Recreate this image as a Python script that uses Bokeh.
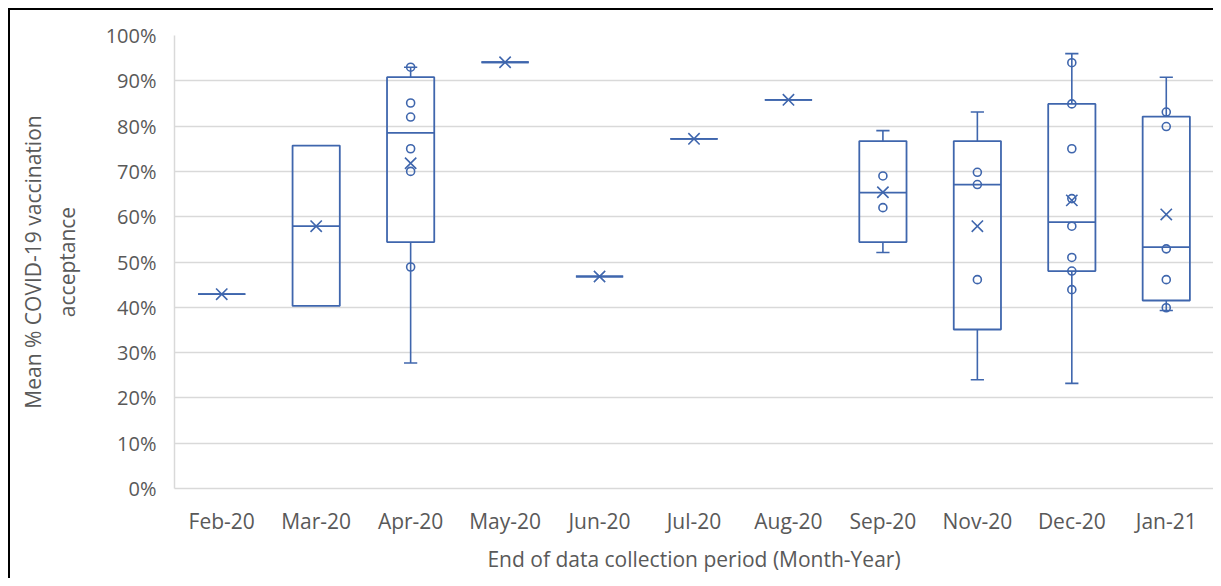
from bokeh.plotting import figure
from bokeh.models import (FactorRange, Range1d, FixedTicker, PrintfTickFormatter,
                          ColumnDataSource)
from bokeh.transform import dodge
from bokeh.embed import file_html
from bokeh.resources import INLINE

# ---- data (values in %) ----
months = ["Feb-20", "Mar-20", "Apr-20", "May-20", "Jun-20", "Jul-20",
          "Aug-20", "Sep-20", "Nov-20", "Dec-20", "Jan-21"]
q1 = [42.9, 40.3, 54.4, 94.1, 46.8, 77.2, 85.8, 54.4, 35.1, 48.0, 41.5]
median = [42.9, 57.9, 78.5, 94.1, 46.8, 77.2, 85.8, 65.3, 67.1, 58.8, 53.3]
q3 = [42.9, 75.7, 90.8, 94.1, 46.8, 77.2, 85.8, 76.7, 76.7, 84.9, 82.1]
whisker_low = [42.9, 40.3, 27.7, 94.1, 46.8, 77.2, 85.8, 52.1, 24.0, 23.2, 39.3]
whisker_high = [42.9, 75.7, 93.0, 94.1, 46.8, 77.2, 85.8, 79.0, 83.1, 96.0, 90.8]
mean = [42.9, 57.9, 71.8, 94.1, 46.8, 77.2, 85.8, 65.4, 57.9, 63.6, 60.5]

point_months = (["Apr-20"] * 6 + ["Sep-20"] * 2 + ["Nov-20"] * 3 +
                ["Dec-20"] * 8 + ["Jan-21"] * 5)
point_values = [93.0, 85.1, 82.0, 75.0, 70.0, 48.9,
                69.0, 62.0,
                69.8, 67.1, 46.1,
                94.0, 84.9, 75.0, 64.0, 57.9, 51.0, 48.0, 43.9,
                83.1, 79.9, 52.9, 46.1, 39.9]

y_ticks = [0, 10, 20, 30, 40, 50, 60, 70, 80, 90, 100]

# ---- styling ----
BLUE = "#3f66ad"
GRID = "#d9d9d9"
TXT = "#595959"
FONT = "Open Sans"

p = figure(width=1213, height=578, x_range=FactorRange(*months, range_padding=0),
           y_range=Range1d(0, 100), output_backend="svg", toolbar_location=None,
           min_border_left=174, min_border_top=35, min_border_right=0,
           min_border_bottom=90)
p.outline_line_color = None
p.background_fill_color = "white"
p.border_fill_color = None
# outer frame line of the cropped original (top and left edges only)
p.styles = {"background-color": "white",
            "box-shadow": "inset 8px 8px 0 0 white, inset 10px 10px 0 0 black"}

src = ColumnDataSource(dict(month=months, q1=q1, median=median, q3=q3,
                            lo=whisker_low, hi=whisker_high, mean=mean))

# whiskers
up_idx = [i for i in range(len(months)) if whisker_high[i] > q3[i]]
lo_idx = [i for i in range(len(months)) if whisker_low[i] < q1[i]]
up_src = ColumnDataSource(dict(month=[months[i] for i in up_idx],
                               a=[q3[i] for i in up_idx], b=[whisker_high[i] for i in up_idx]))
lo_src = ColumnDataSource(dict(month=[months[i] for i in lo_idx],
                               a=[q1[i] for i in lo_idx], b=[whisker_low[i] for i in lo_idx]))
for s in (up_src, lo_src):
    p.segment(x0="month", y0="a", x1="month", y1="b", source=s,
              line_color=BLUE, line_width=1.6)
    p.segment(x0=dodge("month", -0.07, range=p.x_range), y0="b",
              x1=dodge("month", 0.07, range=p.x_range), y1="b", source=s,
              line_color=BLUE, line_width=1.6)

# boxes
p.vbar(x="month", top="q3", bottom="q1", width=0.5, source=src,
       fill_color=None, line_color=BLUE, line_width=1.8)
# median
p.segment(x0=dodge("month", -0.25, range=p.x_range), y0="median",
          x1=dodge("month", 0.25, range=p.x_range), y1="median", source=src,
          line_color=BLUE, line_width=1.8)
# mean markers
p.scatter(x="month", y="mean", source=src, marker="x", size=16,
          line_color=BLUE, line_width=1.6)
# inner points
p.scatter(x=point_months, y=point_values, marker="circle", size=8,
          fill_alpha=0, line_color=BLUE, line_width=1.6)

# axes & grid
p.xgrid.grid_line_color = None
p.ygrid.grid_line_color = GRID
p.ygrid.grid_line_width = 1.5
p.yaxis.ticker = FixedTicker(ticks=y_ticks)
p.yaxis.formatter = PrintfTickFormatter(format="%d%%")

for ax in (p.xaxis[0], p.yaxis[0]):
    ax.axis_line_color = GRID
    ax.axis_line_width = 1.5
    ax.major_tick_line_color = None
    ax.minor_tick_line_color = None
    ax.major_label_text_color = TXT
    ax.major_label_text_font = FONT
    ax.axis_label_text_color = TXT
    ax.axis_label_text_font = FONT
    ax.axis_label_text_font_style = "normal"

p.xaxis.axis_label_text_font_size = "21px"
p.yaxis.axis_label_text_font_size = "21px"
p.xaxis.major_label_text_font_size = "21px"
p.yaxis.major_label_text_font_size = "20px"
p.xaxis.major_label_standoff = 12
p.yaxis.major_label_standoff = 12
p.xaxis.axis_label = "End of data collection period (Month-Year)"
p.yaxis.axis_label = "Mean % COVID-19 vaccination\nacceptance"
p.xaxis.axis_label_standoff = 7
p.yaxis.axis_label_standoff = 22

open("out.html", "w").write(file_html(p, INLINE))
